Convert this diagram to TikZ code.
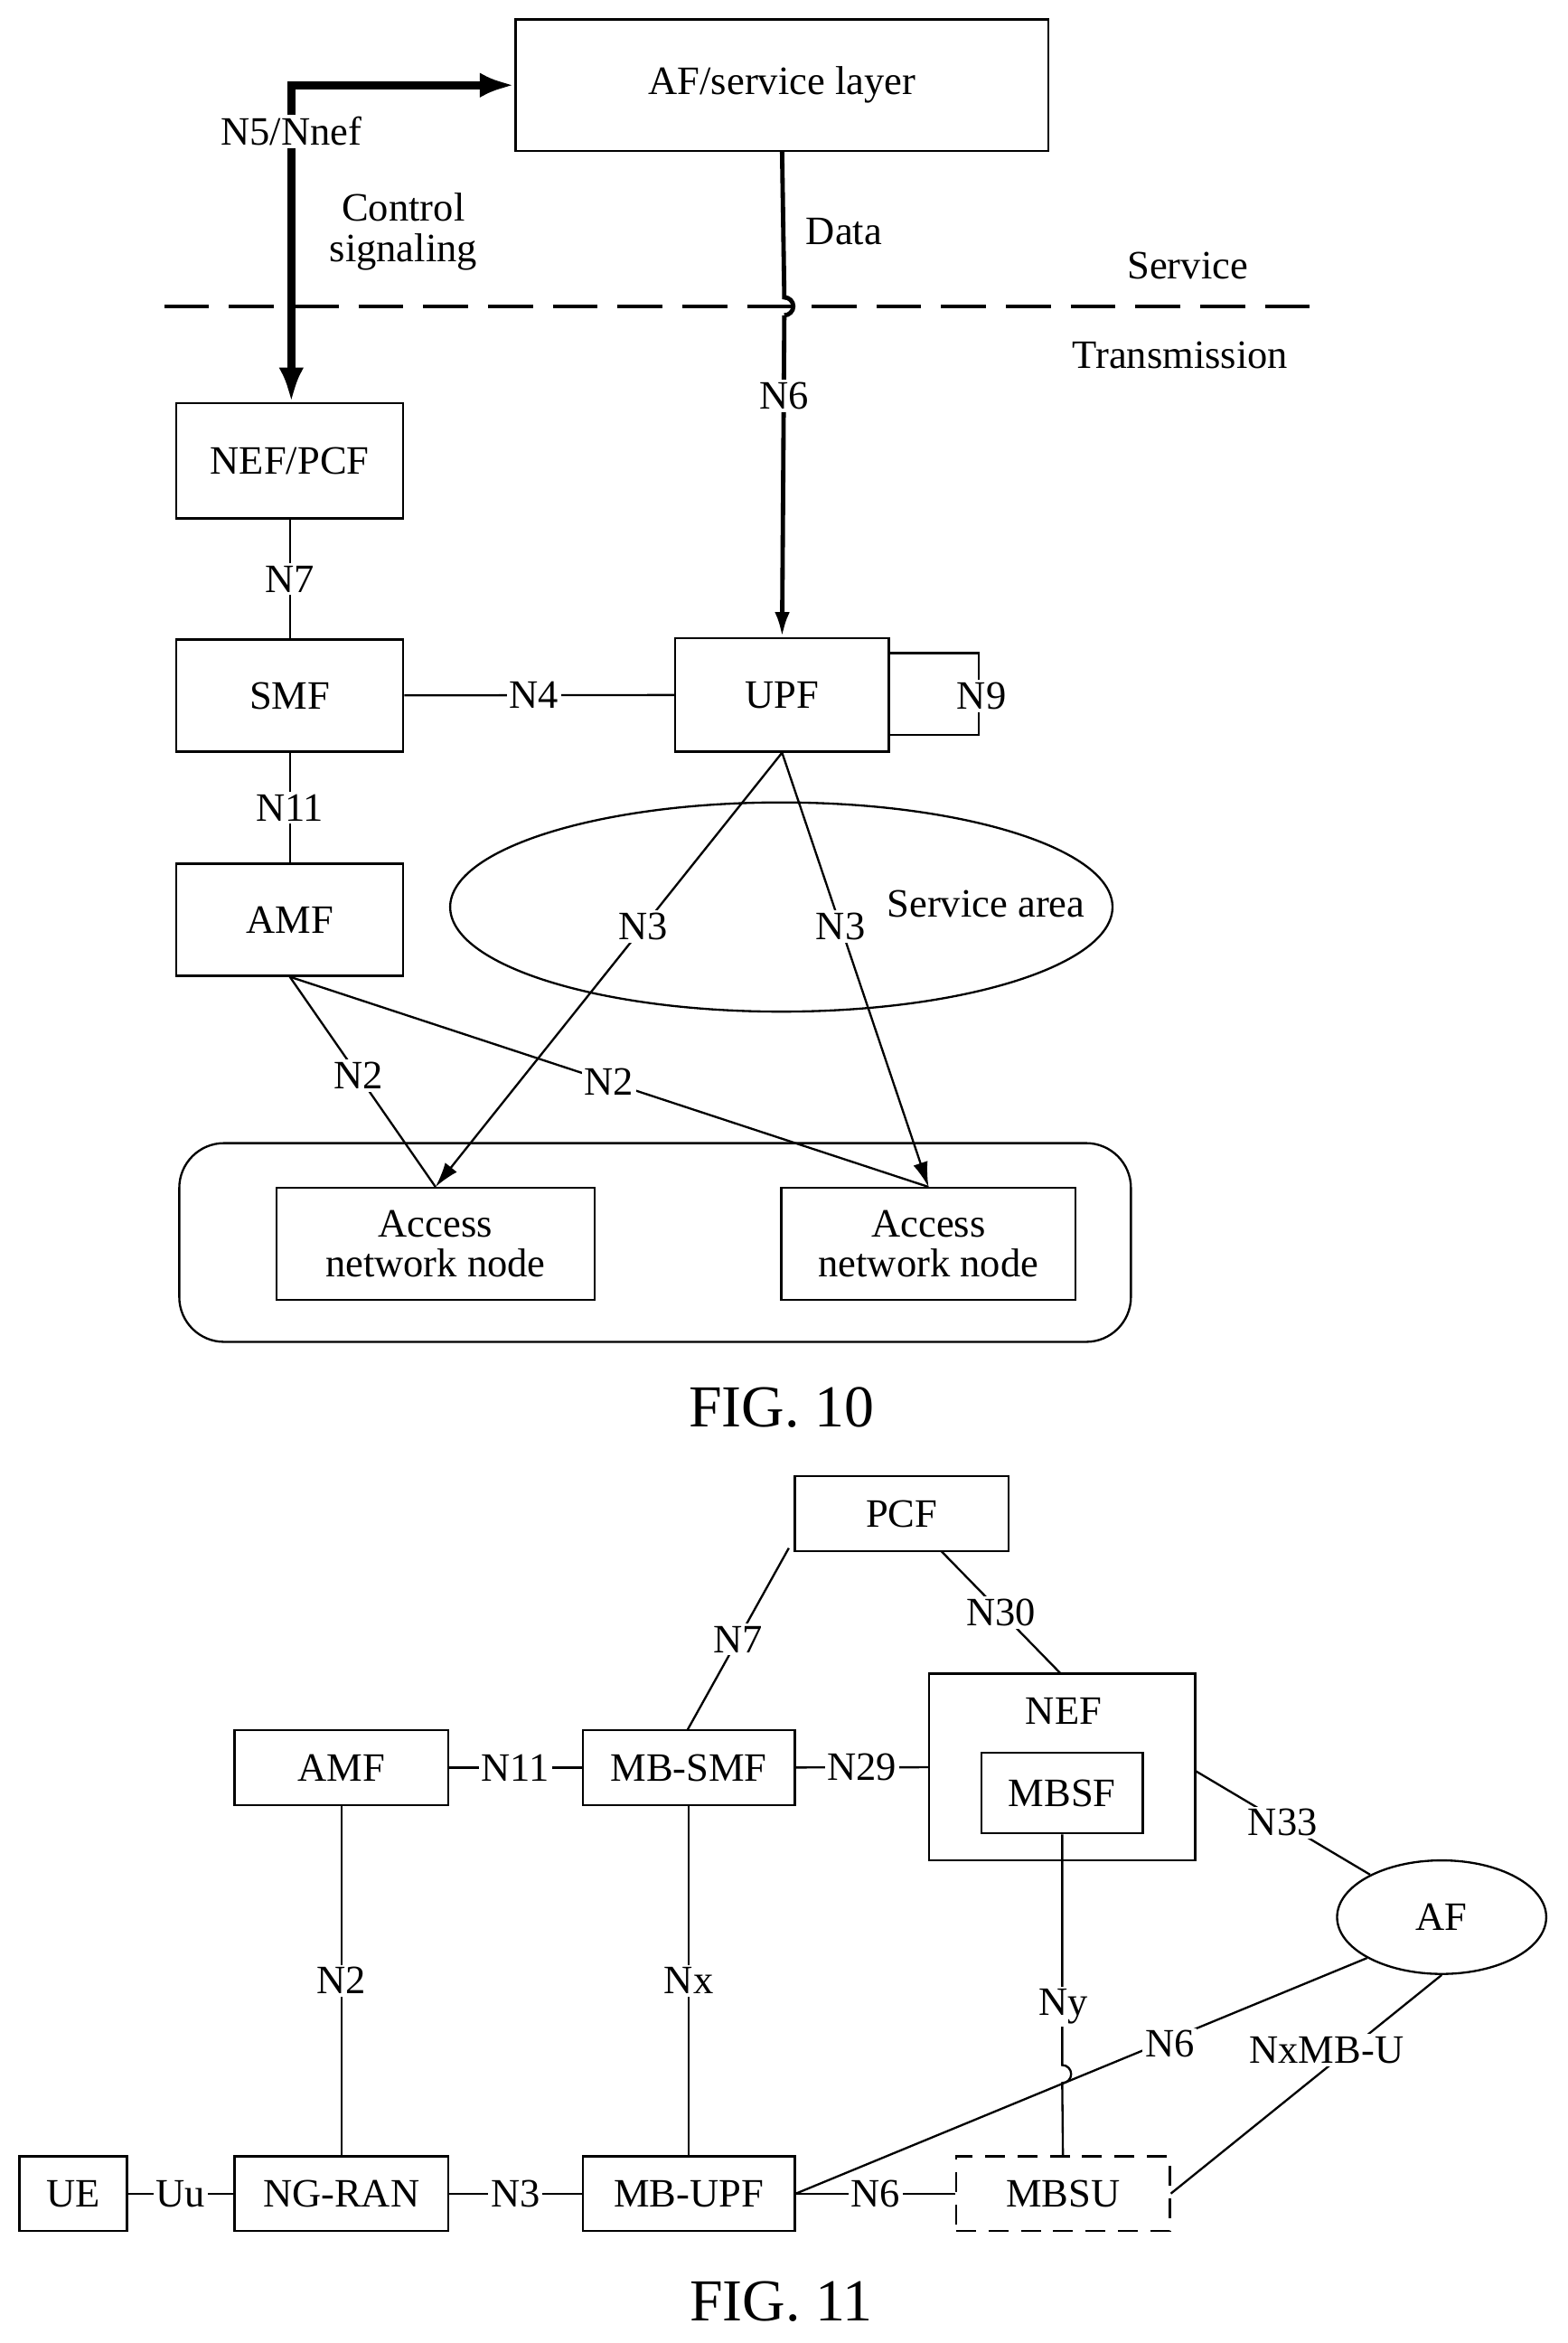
\documentclass[tikz,border=0pt]{standalone}
\usepackage{fontspec}
\setmainfont{Liberation Serif}
\usetikzlibrary{shapes.geometric,arrows.meta}

\tikzset{
  box/.style={draw,line width=1.2pt,minimum width=#1,inner sep=0pt},
  box/.default=2cm,
  lbl/.style={fill=white,inner sep=1.5pt},
  wire/.style={line width=1.2pt}
}

\begin{document}
\begin{tikzpicture}[x=0.3mm,y=-0.3mm,>={Latex[length=5mm,width=3mm]},font=\fontsize{23}{27}\selectfont]
        \useasboundingbox (0,0) rectangle (1049,1568);

        % FIG. 10
        \node[box,minimum width=107mm,minimum height=26.4mm] (af) at (523.5,57) {AF/service layer};
        \node[box,minimum width=45.6mm,minimum height=23.1mm] (nef) at (194,308.5) {NEF/PCF};
        \node[box,minimum width=45.6mm,minimum height=22.5mm] (smf) at (194,465.5) {SMF};
        \node[box,minimum width=42.9mm,minimum height=22.8mm] (upf) at (523.5,465) {UPF};
        \node[box,minimum width=45.6mm,minimum height=22.5mm] (amf) at (194,615.5) {AMF};
        \draw[wire,rounded corners=9mm] (120,765) rectangle (757,898);
        \node[box,minimum width=63.9mm,minimum height=22.5mm,align=center] (an1) at (291.5,832.5) {Access\\[-4pt]network node};
        \node[box,minimum width=59.1mm,minimum height=22.5mm,align=center] (an2) at (621.5,832.5) {Access\\[-4pt]network node};
        \node[draw,ellipse,line width=1.2pt,minimum width=133mm,minimum height=42mm] (area) at (523,607) {};
        \node (arealbl) at (660,605) {Service area};

        % service / transmission split
        \draw[line width=2pt,dash pattern=on 9mm off 4mm] (110,205) -- (878,205);
        \node (svc) at (795,178) {Service};
        \node (trn) at (790,238) {Transmission};

        % control signalling path
        \coordinate (bend) at (195,57);
        \draw[line width=4.5pt,{Latex[length=7mm,width=5mm]}-{Latex[length=7mm,width=5mm]}] (nef.north -| bend) -- (bend) -- (af.west);
        \node[lbl] (n5) at (195,88) {N5/Nnef};
        \node[align=center] (ctl) at (270,155) {Control\\[-4pt]signaling};

        % data path with a hop over the split
        \draw[line width=2.5pt] (af.south) -- (525,199) arc (90:-90:6 and -6);
        \draw[line width=2.5pt,->] (525,211) -- (upf.north);
        \node (data) at (565,155) {Data};
        \node[lbl] (n6a) at (525,265) {N6};

        \draw[wire] (nef) -- node[lbl] {N7} (smf);
        \draw[wire] (smf) -- node[lbl] {N11} (amf);
        \draw[wire] (smf) -- node[lbl,pos=0.48] {N4} (upf);
        \draw[wire] (595,437) -- (655,437) -- (655,492) -- (595,492);
        \node[lbl] (n9) at (657,466) {N9};

        \draw[wire,->] (upf.south) -- node[lbl,pos=0.4] {N3} (an1.north);
        \draw[wire,->] (upf.south) -- node[lbl,pos=0.4] {N3} (an2.north);
        \draw[wire] (amf.south) -- node[lbl,pos=0.47] {N2} (an1.north);
        \draw[wire] (amf.south) -- node[lbl,pos=0.5] {N2} (an2.north);

        \node[font=\fontsize{34}{40}\selectfont] (fig10) at (523,942) {FIG. 10};

        % FIG. 11
        \node[box,minimum width=42.9mm,minimum height=15mm] (pcf) at (603.5,1013) {PCF};
        \node[box,minimum width=53.4mm,minimum height=37.5mm] (nefb) at (711,1182.5) {};
        \node (neflbl) at (712,1145) {NEF};
        \node[box,minimum width=32.4mm,minimum height=16.2mm] (mbsf) at (711,1200) {MBSF};
        \node[box,minimum width=42.9mm,minimum height=15mm] (amf2) at (228.5,1183) {AMF};
        \node[box,minimum width=42.6mm,minimum height=15mm] (mbsmf) at (461,1183) {MB-SMF};
        \node[draw,ellipse,line width=1.2pt,minimum width=42mm,minimum height=22.8mm] (af2) at (965,1283) {AF};
        \node[box,minimum width=21.6mm,minimum height=15mm] (ue) at (49,1468) {UE};
        \node[box,minimum width=42.9mm,minimum height=15mm] (ngran) at (228.5,1468) {NG-RAN};
        \node[box,minimum width=42.6mm,minimum height=15mm] (mbupf) at (461,1468) {MB-UPF};
        \node[box,dashed,dash pattern=on 4mm off 2.5mm,minimum width=42.9mm,minimum height=15mm] (mbsu) at (711.5,1468) {MBSU};

        \draw[wire] (528,1036) -- node[lbl] {N7} (460,1158);
        \draw[wire] (630,1038) -- node[lbl] {N30} (710,1120);
        \draw[wire] (800,1185) -- node[lbl] {N33} (af2);
        \draw[wire] (amf2) -- node[lbl] {N11} (mbsmf);
        \draw[wire] (mbsmf) -- node[lbl] {N29} (nefb);
        \draw[wire] (amf2) -- node[lbl] {N2} (ngran);
        \draw[wire] (mbsmf) -- node[lbl] {Nx} (mbupf);
        \draw[wire] (ue) -- node[lbl] {Uu} (ngran);
        \draw[wire] (ngran) -- node[lbl] {N3} (mbupf);
        \draw[wire] (mbupf) -- node[lbl] {N6} (mbsu);
        \coordinate (hopt) at (711,1382);
        \coordinate (hopb) at (711,1394);
        \draw[wire] (mbsf.south) -- (hopt) arc (90:-90:6 and -6) -- (mbsu.north);
        \node[lbl] (ny) at (712,1343) {Ny};
        \draw[wire] (mbupf.east) -- (af2.south west);
        \node[lbl] (n6b) at (783,1368) {N6};
        \draw[wire] (mbsu.east) -- (af2.south);
        \node[lbl] (nxmbu) at (888,1372) {NxMB-U};

        \node[font=\fontsize{34}{40}\selectfont] (fig11) at (523,1540) {FIG. 11};
\end{tikzpicture}
\end{document}
